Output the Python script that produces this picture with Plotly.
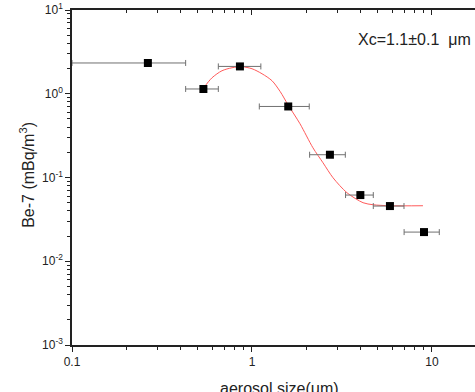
import plotly.graph_objects as go

# measured points
size_um = [0.264, 0.537, 0.857, 1.59, 2.71, 4.00, 5.84, 9.03]
be7 = [2.33, 1.14, 2.12, 0.705, 0.187, 0.0617, 0.0456, 0.0223]
size_low = [0.10, 0.428, 0.65, 1.098, 2.09, 3.31, 4.72, 7.00]
size_high = [0.428, 0.65, 1.12, 2.08, 3.30, 4.72, 6.99, 10.98]

# fitted curve
fit_x = [0.534, 0.600, 0.681, 0.774, 0.880, 1.0, 1.137, 1.292, 1.435, 1.585,
         1.848, 2.18, 2.48, 2.82, 3.37, 4.14, 4.70, 5.84, 8.91]
fit_y = [1.147, 1.553, 1.882, 2.044, 2.10, 1.989, 1.733, 1.43, 1.06, 0.739,
         0.438, 0.2266, 0.150, 0.0993, 0.0658, 0.050, 0.0473, 0.046, 0.046]

y_ticks = [0.001, 0.01, 0.1, 1, 10]
y_ticktext = ["10<sup>-3</sup>", "10<sup>-2</sup>", "10<sup>-1</sup>", "10<sup>0</sup>", "10<sup>1</sup>"]
x_ticks = [0.1, 1, 10]
x_ticktext = ["0.1", "1", "10"]

err_plus = [h - x for h, x in zip(size_high, size_um)]
err_minus = [x - l for l, x in zip(size_low, size_um)]

minor_x = [m * d for d in [0.1, 1, 10] for m in range(2, 10)]
minor_y = [m * d for d in [0.001, 0.01, 0.1, 1] for m in range(2, 10)]

fig = go.Figure()
fig.add_trace(go.Scatter(
    x=fit_x, y=fit_y, mode="lines", line=dict(color="#ff5a5a", width=1, shape="spline", smoothing=0.8),
    showlegend=False, hoverinfo="skip"))
fig.add_trace(go.Scatter(
    x=size_um, y=be7, mode="markers",
    marker=dict(symbol="square", size=8, color="black"),
    error_x=dict(type="data", symmetric=False, array=err_plus, arrayminus=err_minus,
                 color="#707070", thickness=1, width=3),
    showlegend=False))
# invisible trace for the top axis
fig.add_trace(go.Scatter(x=x_ticks, y=[1, 1, 1], xaxis="x2", yaxis="y", mode="markers",
                         marker=dict(opacity=0), showlegend=False, hoverinfo="skip"))

xrange = [-1, 1.239]
font = dict(family="Liberation Sans, Arial, sans-serif", size=12, color="#222")

fig.update_layout(
    width=475, height=392,
    margin=dict(l=72, r=0, t=10, b=47),
    plot_bgcolor="white", paper_bgcolor="white",
    font=font,
    xaxis=dict(type="log", range=xrange, showgrid=False, zeroline=False,
               showline=True, linecolor="#222", linewidth=1.5,
               ticks="outside", ticklen=5, tickwidth=1, tickcolor="#222",
               tickvals=x_ticks, ticktext=x_ticktext,
               minor=dict(tickvals=minor_x, ticks="outside", ticklen=3, tickcolor="#222", showgrid=False)),
    xaxis2=dict(type="log", range=xrange, overlaying="x", anchor="y", side="top", showgrid=False,
                zeroline=False, showline=True, linecolor="#222", linewidth=1.5,
                ticks="inside", ticklen=5, tickwidth=1, tickcolor="#222",
                tickmode="array", tickvals=x_ticks, showticklabels=False,
                minor=dict(tickvals=minor_x, ticks="inside", ticklen=3, tickcolor="#222", showgrid=False)),
    yaxis=dict(type="log", range=[-3, 1], showgrid=False, zeroline=False,
               showline=True, linecolor="#222", linewidth=1.5,
               ticks="outside", ticklen=5, tickwidth=1, tickcolor="#222",
               tickvals=y_ticks, ticktext=y_ticktext,
               minor=dict(tickvals=minor_y, ticks="outside", ticklen=3, tickcolor="#222", showgrid=False)),
    annotations=[
        dict(text="Xc=1.1±0.1  μm", xref="paper", yref="paper", x=0.995, y=0.913,
             xanchor="right", yanchor="middle", showarrow=False, font=dict(size=16, color="#222")),
        dict(text="aerosol size(μm)", xref="paper", yref="paper", x=0.516, y=-0.098,
             xanchor="center", yanchor="top", showarrow=False, font=dict(size=16, color="#222")),
        dict(text="Be-7 (mBq/m<sup>3</sup>)", xref="paper", yref="paper", x=-0.11, y=0.507,
             xanchor="center", yanchor="middle", textangle=-90, showarrow=False,
             font=dict(size=16, color="#222")),
    ],
)

fig.write_html("out.html", config={"displayModeBar": False},
               post_script="document.body.style.margin='0';document.body.style.overflow='hidden';")
